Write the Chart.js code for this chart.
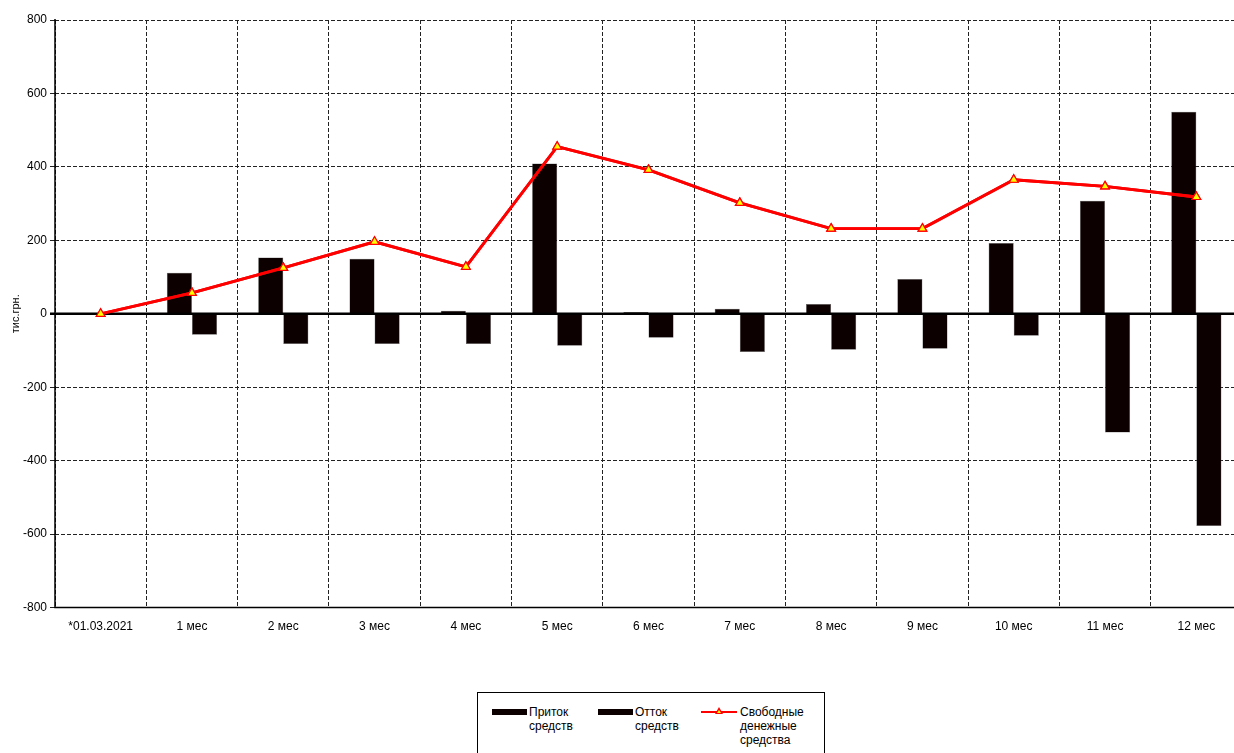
<!DOCTYPE html>
<html>
<head>
<meta charset="utf-8">
<script src="https://cdn.jsdelivr.net/npm/chart.js@4/dist/chart.umd.min.js"></script>
<style>
  html, body { margin: 0; padding: 0; background: #fff; overflow: hidden; width: 1234px; height: 753px; }
  #wrap { position: absolute; left: 0; top: 0; width: 1250px; height: 646px; }
  #legend {
    position: absolute; left: 477px; top: 692px; width: 348px; height: 70px;
    border: 1px solid #000; box-sizing: border-box;
    font-family: 'Liberation Sans', Arial, sans-serif; font-size: 12px; color: #000;
  }
  .item { position: absolute; top: 12px; display: flex; align-items: flex-start; }
  .item span { text-align: left; line-height: 14px; }
  .sw { width: 35px; height: 6px; background: #0d0000; margin-top: 4px; margin-right: 2px; }
  .ln { position: relative; width: 36px; height: 14px; margin-right: 3px; }
  .ln:before { content: ''; position: absolute; left: 0; right: 0; top: 6px; height: 2px; background: #ff0000; }
  .ln:after { content: ''; position: absolute; left: 14px; top: 2px; width: 0; height: 0;
    border-left: 4px solid transparent; border-right: 4px solid transparent; border-bottom: 7px solid #ff0000; }
  .ln i { position: absolute; left: 16px; top: 5px; width: 0; height: 0; z-index: 2;
    border-left: 2px solid transparent; border-right: 2px solid transparent; border-bottom: 3px solid #ffff00; }
</style>
</head>
<body>
<div id="wrap"><canvas id="chartCash"></canvas></div>
<div id="legend">
  <div class="item" style="left:14px"><div class="sw"></div><span>Приток<br>средств</span></div>
  <div class="item" style="left:120px"><div class="sw"></div><span>Отток<br>средств</span></div>
  <div class="item" style="left:223px"><div class="ln"><i></i></div><span>Свободные<br>денежные<br>средства</span></div>
</div>
<script>
/* ── data ─────────────────────────────────────────────── */
const LABELS  = ['*01.03.2021', '1 мес', '2 мес', '3 мес', '4 мес', '5 мес', '6 мес',
                 '7 мес', '8 мес', '9 мес', '10 мес', '11 мес', '12 мес'];
const INFLOW  = [0, 112, 153, 150, 8, 409, 5, 14, 27, 95, 193, 308, 550];
const OUTFLOW = [0, -57, -82, -82, -82, -87, -65, -104, -98, -95, -60, -323, -578];
const FREE    = [0, 57, 125, 196, 128, 455, 392, 302, 232, 232, 365, 347, 318];
const Y_TICKS = [-800, -600, -400, -200, 0, 200, 400, 600, 800];

const FONT = "'Liberation Sans', Arial, sans-serif";
const BAR  = '#0d0000';

/* solid axis lines + thick zero line */
const axisLines = {
  id: 'axisLines',
  afterDatasetsDraw(chart) {
    const { ctx, chartArea, scales } = chart;
    const y0 = scales.y.getPixelForValue(0);
    ctx.save();
    ctx.setLineDash([]);
    ctx.strokeStyle = '#000';
    ctx.lineWidth = 1.5;
    ctx.beginPath();
    ctx.moveTo(chartArea.left, chartArea.top - 1);
    ctx.lineTo(chartArea.left, chartArea.bottom);
    ctx.lineTo(chartArea.right, chartArea.bottom);
    ctx.stroke();
    ctx.lineWidth = 2.5;
    ctx.beginPath();
    ctx.moveTo(chartArea.left - 5, y0);
    ctx.lineTo(chartArea.right, y0);
    ctx.stroke();
    ctx.restore();
  },
};

/* draw the line series above the zero line */
const lineOnTop = {
  id: 'lineOnTop',
  afterDraw(chart) {
    chart.getDatasetMeta(2).controller.draw();
  },
};

new Chart(document.getElementById('chartCash'), {
  data: {
    labels: LABELS,
    datasets: [
      {
        type: 'bar', label: 'Приток средств', data: INFLOW,
        backgroundColor: BAR, borderColor: '#666', borderWidth: 0.5,
        categoryPercentage: 0.55, barPercentage: 1, order: 2,
      },
      {
        type: 'bar', label: 'Отток средств', data: OUTFLOW,
        backgroundColor: BAR, borderColor: '#666', borderWidth: 0.5,
        categoryPercentage: 0.55, barPercentage: 1, order: 2,
      },
      {
        type: 'line', label: 'Свободные денежные средства', data: FREE,
        borderColor: '#ff0000', borderWidth: 2.8, tension: 0,
        pointStyle: 'triangle', pointRadius: 5,
        pointBackgroundColor: '#ffff00', pointBorderColor: '#ff0000', pointBorderWidth: 1.2,
        order: 1,
      },
    ],
  },
  options: {
    responsive: true,
    maintainAspectRatio: false,
    animation: false,
    layout: { padding: { top: 20, right: 8, left: 0, bottom: 0 } },
    plugins: { legend: { display: false }, tooltip: { enabled: false } },
    scales: {
      x: {
        offset: true,
        grid: { offset: true, color: '#222', lineWidth: 1, tickLength: 0, drawTicks: false },
        border: { display: false, dash: [4, 2] },
        ticks: { color: '#000', font: { family: FONT, size: 12 }, padding: 12, maxRotation: 0, autoSkip: false },
      },
      y: {
        min: -800, max: 800,
        afterBuildTicks: s => { s.ticks = Y_TICKS.map(v => ({ value: v })); },
        afterFit: s => { s.width = 55; },
        grid: { color: '#222', lineWidth: 1, tickLength: 5 },
        border: { display: false, dash: [4, 2] },
        ticks: { color: '#000', font: { family: FONT, size: 12 }, padding: 3 },
        title: { display: true, text: 'тис.грн.', color: '#000', font: { family: FONT, size: 11 }, padding: { top: 9, bottom: 0 } },
      },
    },
  },
  plugins: [axisLines, lineOnTop],
});
</script>
</body>
</html>
